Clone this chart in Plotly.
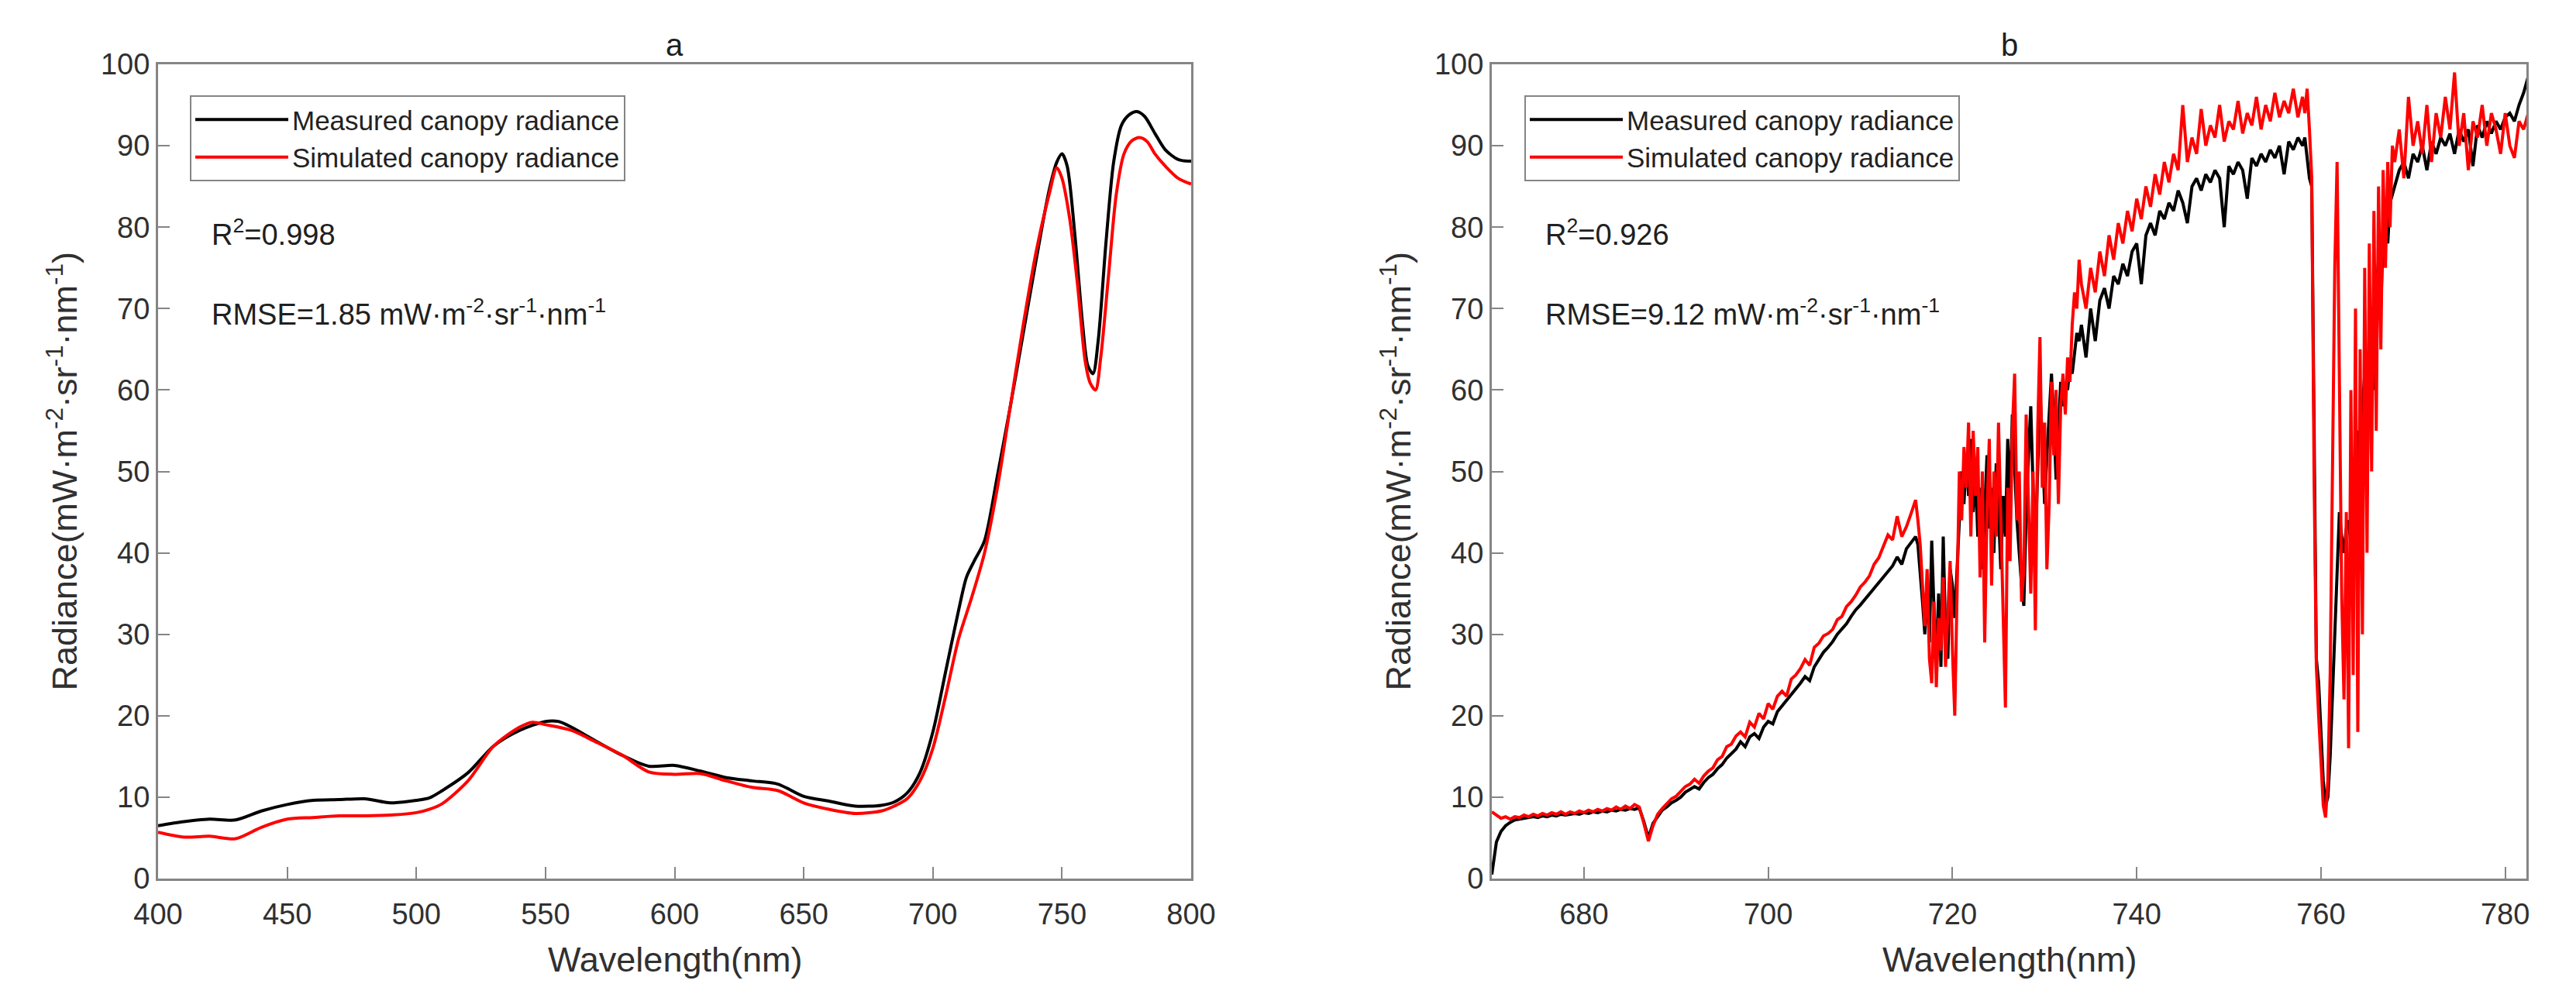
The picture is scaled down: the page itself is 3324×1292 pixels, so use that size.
import numpy as np
import plotly.graph_objects as go

W, H = 3324, 1292
FONT = "Liberation Sans, Arial, sans-serif"

# ---------------- Panel a (400-800 nm) ----------------
wl_meas_a = [400, 410, 420, 430, 440, 450, 460, 470, 480, 490, 500, 505, 510, 520, 530, 540, 550, 555,
             560, 570, 580, 590, 600, 610, 620, 630, 640, 650, 660, 670, 680, 685, 690, 695, 700, 705,
             710, 713, 716, 720, 725, 730, 735, 740, 745, 748, 750, 752, 755, 758, 760, 762, 764, 767,
             770, 773, 776, 779, 782, 786, 790, 795, 800]
meas_a = [6.5, 7.0, 7.3, 7.2, 8.3, 9.1, 9.6, 9.7, 9.8, 9.3, 9.6, 9.9, 10.8, 13.0, 16.3, 18.2, 19.3, 19.3,
          18.6, 16.8, 15.1, 13.8, 13.9, 13.2, 12.4, 12.0, 11.6, 10.1, 9.5, 8.9, 9.0, 9.4, 10.5, 13.0, 18.0, 25.5,
          33.0, 37.0, 39.0, 41.5, 49.5, 58.0, 67.0, 76.0, 84.5, 88.0, 89.0, 87.5, 79.0, 68.0, 63.0, 62.0, 66.0, 78.0,
          88.0, 92.5, 93.8, 94.2, 93.6, 91.5, 89.5, 88.3, 88.1]

wl_sim_a = [400, 410, 420, 430, 440, 450, 460, 470, 480, 490, 500, 505, 510, 520, 530, 540, 545, 550,
            560, 570, 580, 590, 600, 610, 620, 630, 640, 650, 660, 670, 680, 685, 690, 695, 700, 705,
            710, 715, 720, 725, 730, 735, 740, 745, 748, 750, 753, 756, 759, 761, 763, 765, 768, 771,
            774, 777, 780, 783, 786, 790, 795, 800]
sim_a = [5.7, 5.1, 5.2, 4.9, 6.3, 7.3, 7.5, 7.7, 7.7, 7.8, 8.1, 8.5, 9.2, 12.0, 16.3, 18.6, 19.2, 18.9,
         18.2, 16.7, 15.1, 13.1, 12.8, 12.9, 12.0, 11.2, 10.8, 9.3, 8.5, 8.0, 8.3, 8.9, 9.8, 12.0, 16.0, 22.5,
         29.5, 34.5, 40.0, 48.0, 58.0, 68.0, 77.0, 84.0, 87.3, 86.0, 81.0, 73.0, 63.5, 60.8, 60.0, 64.0, 74.0, 84.0,
         89.0, 90.6, 91.0, 90.5, 89.0, 87.5, 86.0, 85.3]

# ---------------- Panel b (670-782 nm) ----------------
wl_b = np.concatenate([
    np.arange(670.0, 716.0, 0.5),
    np.arange(716.0, 734.0, 0.25),
    np.arange(734.0, 758.0, 0.5),
    np.arange(758.0, 768.0, 0.25),
    np.arange(768.0, 783.0, 0.5),
])

meas_b = [
    # 670.0 - 715.5
    0.5, 4.5, 5.8, 6.5, 6.9, 7.2, 7.3, 7.4, 7.5, 7.6, 7.5, 7.7, 7.6, 7.8, 7.7, 7.9, 7.8, 7.9, 8.0, 7.9,
    8.1, 8.0, 8.2, 8.1, 8.3, 8.2, 8.4, 8.3, 8.5, 8.4, 8.6, 8.5, 8.7, 7.0, 5.0, 6.8, 7.6, 8.4, 8.8, 9.3,
    9.6, 10.0, 10.6, 10.9, 11.3, 11.0, 11.8, 12.4, 12.8, 13.5, 14.0, 14.8, 15.3, 15.9, 16.8, 16.2, 17.4, 17.8,
    17.2, 18.6, 19.3, 19.0, 20.5, 21.2, 21.8, 22.6, 23.2, 24.0, 24.8, 24.3, 26.0, 26.9, 27.8, 28.4, 29.1, 30.0,
    30.7, 31.3, 32.2, 33.0, 33.6, 34.3, 35.0, 35.6, 36.3, 37.0, 37.7, 38.4, 39.5, 38.6, 40.5, 41.2,
    # 716.00 - 733.75
    42.0, 41.0, 38.0, 34.0, 30.0, 36.0, 29.0, 41.5, 33.0, 27.0, 35.0, 26.0, 42.0, 30.0, 27.0, 38.0,
    36.0, 32.0, 38.0, 44.0, 50.0, 46.0, 52.0, 47.0, 54.0, 45.0, 50.0, 42.0, 48.0, 38.0, 46.0, 52.0,
    43.0, 48.0, 40.0, 51.0, 45.0, 38.0, 47.0, 42.0, 54.0, 46.0, 57.0, 50.0, 44.0, 40.0, 36.0, 33.5,
    45.0, 52.0, 58.0, 48.0, 41.0, 50.0, 60.0, 54.0, 46.0, 52.0, 58.0, 62.0, 56.0, 49.0, 55.0, 61.0,
    58.0, 61.0, 60.0, 63.0, 62.0, 65.0, 67.0, 66.0,
    # 734.0 - 757.5
    68.0, 64.0, 70.0, 66.0, 71.0, 72.5, 70.0, 74.0, 73.0, 75.5, 74.0, 77.0, 78.0, 73.0, 79.0, 80.5,
    79.0, 82.0, 81.0, 83.0, 82.0, 84.5, 83.0, 80.5, 85.0, 86.0, 84.5, 86.5, 85.5, 87.0, 86.0, 80.0,
    87.5, 86.5, 88.0, 87.0, 83.5, 88.5, 87.5, 89.0, 88.0, 89.5, 88.5, 90.0, 86.5, 90.5, 89.5, 91.0,
    # 758.00 - 767.75
    90.0, 91.0, 88.0, 86.0, 85.0, 60.0, 27.0, 24.0, 18.0, 12.0, 9.0, 10.0, 15.0, 22.0, 30.0, 38.0,
    45.0, 42.0, 40.0, 43.0, 44.0, 41.0, 46.0, 50.0, 55.0, 48.0, 58.0, 62.0, 47.0, 66.0, 70.0, 60.0,
    72.0, 76.0, 70.0, 79.0, 81.0, 78.0, 83.0, 84.0,
    # 768.0 - 782.5
    85.0, 87.0, 88.0, 86.0, 89.0, 88.0, 90.0, 87.0, 90.5, 89.0, 91.0, 90.0, 91.5, 89.0, 92.0, 90.5,
    92.0, 87.5, 92.5, 91.0, 93.0, 91.5, 93.0, 92.0, 93.5, 94.0, 93.0, 95.0, 96.5, 98.5,
]

sim_b = [
    # 670.0 - 715.5
    8.2, 7.8, 7.4, 7.6, 7.3, 7.6, 7.5, 7.8, 7.6, 7.9, 7.7, 8.0, 7.8, 8.1, 7.9, 8.2, 7.9, 8.2, 8.0, 8.3,
    8.1, 8.4, 8.2, 8.5, 8.3, 8.6, 8.4, 8.8, 8.5, 8.9, 8.6, 9.1, 8.8, 6.8, 4.6, 6.5, 7.9, 8.6, 9.2, 9.8,
    10.1, 10.7, 11.3, 11.6, 12.2, 11.7, 12.6, 13.2, 13.6, 14.6, 15.0, 16.2, 16.5, 17.5, 18.0, 17.4, 19.2, 18.6,
    20.3, 19.6, 21.5, 20.8, 22.4, 23.0, 22.4, 24.5, 25.0, 25.8, 26.9, 26.2, 28.4, 28.9, 29.8, 30.1, 30.6, 31.8,
    32.2, 33.4, 34.0, 34.8, 35.8, 36.4, 37.2, 38.6, 39.4, 40.8, 42.2, 41.6, 44.5, 42.0, 43.2, 44.8,
    # 716.00 - 733.75
    46.5, 44.0, 41.0, 36.0, 31.0, 38.0, 27.0, 24.0, 34.0, 23.5, 32.0, 28.0, 37.0, 26.0, 33.0, 39.0,
    28.0, 20.0, 35.0, 50.0, 44.0, 53.0, 48.0, 56.0, 42.0, 55.0, 47.0, 53.0, 37.0, 50.0, 29.0, 45.0,
    54.0, 36.0, 50.0, 42.0, 56.0, 44.0, 32.0, 21.0, 48.0, 39.0, 55.0, 62.0, 44.0, 50.0, 34.0, 38.0,
    57.0, 45.0, 35.0, 50.0, 30.5, 55.0, 66.5, 48.0, 56.0, 38.0, 46.0, 61.0, 52.0, 60.0, 46.0, 58.0,
    62.0, 57.0, 64.0, 61.0, 68.0, 72.0, 70.0, 76.0,
    # 734.0 - 757.5
    73.0, 70.0, 75.0, 72.0, 77.0, 74.0, 79.0, 76.0, 80.5, 78.0, 82.0, 79.5, 83.5, 81.0, 85.0, 82.5,
    86.5, 84.0, 88.0, 85.5, 89.0, 87.0, 95.0, 88.0, 91.0, 89.0, 94.5, 90.0, 92.5, 91.0, 95.0, 90.5,
    93.0, 92.0, 95.5, 91.5, 94.0, 92.5, 96.0, 92.0, 95.0, 93.0, 96.5, 93.5, 95.5, 94.0, 97.0, 93.5,
    # 758.00 - 767.75
    96.0, 94.0, 97.0, 92.0, 86.0, 50.0, 26.0, 20.0, 14.0, 9.0, 7.5, 12.0, 25.0, 50.0, 75.0, 88.0,
    60.0, 35.0, 22.0, 45.0, 16.0, 60.0, 25.0, 70.0, 18.0, 65.0, 30.0, 75.0, 40.0, 78.0, 50.0, 82.0,
    55.0, 85.0, 65.0, 87.0, 75.0, 88.0, 80.0, 90.0,
    # 768.0 - 782.5
    88.0, 92.0, 86.0, 96.0, 90.0, 93.0, 89.0, 95.0, 88.0, 94.0, 91.0, 96.0, 92.0, 99.0, 90.0, 94.0,
    87.0, 93.0, 91.0, 95.0, 90.0, 94.0, 92.0, 89.0, 94.0, 90.0, 88.5, 93.0, 92.0, 94.0,
]

names = ["Measured canopy radiance", "Simulated canopy radiance"]
colors = ["#000000", "#ff0000"]
xticks_a = [400, 450, 500, 550, 600, 650, 700, 750, 800]
xticks_b = [680, 700, 720, 740, 760, 780]
yticks = [0, 10, 20, 30, 40, 50, 60, 70, 80, 90, 100]
stats_a = ["R<sup>2</sup>=0.998", "RMSE=1.85 mW·m<sup>-2</sup>·sr<sup>-1</sup>·nm<sup>-1</sup>"]
stats_b = ["R<sup>2</sup>=0.926", "RMSE=9.12 mW·m<sup>-2</sup>·sr<sup>-1</sup>·nm<sup>-1</sup>"]
ytitle = "Radiance(mW·m<sup>-2</sup>·sr<sup>-1</sup>·nm<sup>-1</sup>)"
xtitle = "Wavelength(nm)"

fig = go.Figure()
fig.add_trace(go.Scatter(x=wl_meas_a, y=meas_a, mode="lines", name=names[0],
                         line=dict(color=colors[0], width=4, shape="spline", smoothing=0.8),
                         xaxis="x", yaxis="y", legend="legend"))
fig.add_trace(go.Scatter(x=wl_sim_a, y=sim_a, mode="lines", name=names[1],
                         line=dict(color=colors[1], width=4, shape="spline", smoothing=0.8),
                         xaxis="x", yaxis="y", legend="legend"))
fig.add_trace(go.Scatter(x=wl_b, y=meas_b, mode="lines", name=names[0],
                         line=dict(color=colors[0], width=4),
                         xaxis="x2", yaxis="y2", legend="legend2"))
fig.add_trace(go.Scatter(x=wl_b, y=sim_b, mode="lines", name=names[1],
                         line=dict(color=colors[1], width=4),
                         xaxis="x2", yaxis="y2", legend="legend2"))

# pixel geometry of the two frames
L1, R1, L2, R2 = 204, 1537, 1925, 3260
TOP, BOT = 83, 1134
px = lambda v: v / W
py = lambda v: 1 - v / H

axis_common = dict(showline=True, linecolor="#858585", linewidth=3, mirror=True,
                   ticks="inside", ticklen=15, tickwidth=2, tickcolor="#858585",
                   showgrid=False, zeroline=False, automargin=False,
                   tickfont=dict(family=FONT, size=38, color="#303030"))
xaxis_extra = dict(ticklabelstandoff=10)

fig.update_layout(
    width=W, height=H, autosize=False,
    margin=dict(l=0, r=0, t=0, b=0),
    paper_bgcolor="white", plot_bgcolor="white",
    font=dict(family=FONT, color="#303030"),
    showlegend=True,
    xaxis=dict(domain=[px(L1), px(R1)], range=[400, 800], tickvals=xticks_a, anchor="y",
               **axis_common, **xaxis_extra),
    yaxis=dict(domain=[py(BOT), py(TOP)], range=[0, 100], tickvals=yticks, anchor="x", **axis_common),
    xaxis2=dict(domain=[px(L2), px(R2)], range=[670, 782.3], tickvals=xticks_b, anchor="y2",
                **axis_common, **xaxis_extra),
    yaxis2=dict(domain=[py(BOT), py(TOP)], range=[0, 100], tickvals=yticks, anchor="x2", **axis_common),
    legend=dict(x=px(245), y=py(123), xanchor="left", yanchor="top", bgcolor="white",
                bordercolor="#858585", borderwidth=2, itemwidth=120, tracegroupgap=0,
                font=dict(family=FONT, size=35, color="#222222")),
    legend2=dict(x=px(1967), y=py(123), xanchor="left", yanchor="top", bgcolor="white",
                 bordercolor="#858585", borderwidth=2, itemwidth=120, tracegroupgap=0,
                 font=dict(family=FONT, size=35, color="#222222")),
)

ann = []
for (l, r, title, stats) in [(L1, R1, "a", stats_a), (L2, R2, "b", stats_b)]:
    ann.append(dict(text=title, x=px((l + r) / 2), y=py(58), xref="paper", yref="paper",
                    showarrow=False, xanchor="center", yanchor="middle",
                    font=dict(family=FONT, size=40, color="#202020")))
    ann.append(dict(text=xtitle, x=px((l + r) / 2), y=py(1238), xref="paper", yref="paper",
                    showarrow=False, xanchor="center", yanchor="middle",
                    font=dict(family=FONT, size=45, color="#303030")))
    ann.append(dict(text=ytitle, x=px(l - 124), y=py((TOP + BOT) / 2), xref="paper", yref="paper",
                    showarrow=False, xanchor="center", yanchor="middle", textangle=-90,
                    font=dict(family=FONT, size=45, color="#303030")))
    ann.append(dict(text=stats[0], x=px(l + 67), y=py(300), xref="paper", yref="paper",
                    showarrow=False, xanchor="left", yanchor="middle",
                    font=dict(family=FONT, size=38, color="#202020")))
    ann.append(dict(text=stats[1], x=px(l + 67), y=py(403), xref="paper", yref="paper",
                    showarrow=False, xanchor="left", yanchor="middle",
                    font=dict(family=FONT, size=38, color="#202020")))
fig.update_layout(annotations=ann)

fig.write_html("out.html")
